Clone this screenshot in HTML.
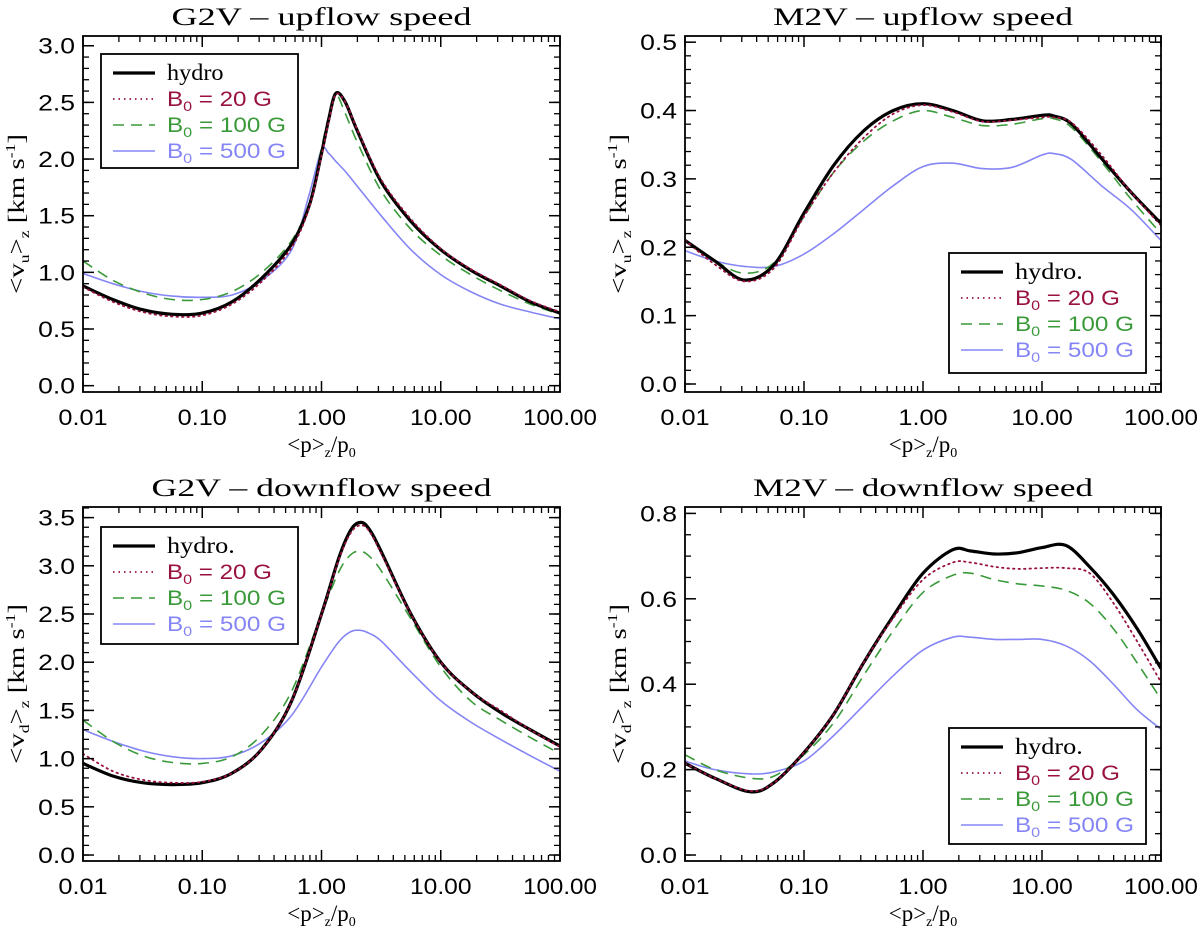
<!DOCTYPE html>
<html><head><meta charset="utf-8"><style>
html,body{margin:0;padding:0;background:#fff;overflow:hidden}
svg{display:block}
text{font-family:"Liberation Sans",sans-serif}
.t{font-family:"Liberation Serif",serif}
</style></head><body>
<svg id="fig" width="1200" height="929" viewBox="0 0 1200 929" xmlns="http://www.w3.org/2000/svg"></svg>
<script>
// ---- data (x = log10 <p>_z/p0) ----
const tlX = [-2,-1.75,-1.5,-1.25,-1,-0.75,-0.5,-0.25,-0.1,0,0.06,0.12,0.2,0.3,0.5,0.75,1,1.25,1.5,1.75,2];
const tlHydro = [0.88,0.76,0.67,0.63,0.64,0.74,0.95,1.25,1.6,2.05,2.35,2.58,2.5,2.25,1.8,1.45,1.2,1.02,0.88,0.74,0.64];
const tl20 = [0.87,0.74,0.65,0.61,0.62,0.72,0.92,1.22,1.58,2.03,2.33,2.57,2.5,2.26,1.82,1.47,1.21,1.03,0.89,0.75,0.65];
const tl100 = [1.1,0.93,0.82,0.76,0.76,0.83,1.0,1.28,1.62,2.1,2.38,2.57,2.4,2.15,1.72,1.38,1.15,0.98,0.84,0.72,0.63];
const tl500 = [0.99,0.9,0.83,0.79,0.78,0.8,0.93,1.2,1.7,2.08,2.05,1.98,1.89,1.76,1.5,1.2,0.98,0.83,0.72,0.65,0.59];

const trX = [-2,-1.75,-1.5,-1.25,-1,-0.75,-0.5,-0.25,0,0.25,0.5,0.75,1,1.1,1.25,1.5,1.75,2];
const trHydro = [0.21,0.18,0.152,0.175,0.25,0.32,0.37,0.4,0.41,0.4,0.385,0.387,0.393,0.392,0.38,0.33,0.28,0.235];
const tr20 = [0.21,0.175,0.15,0.17,0.245,0.31,0.36,0.395,0.408,0.398,0.384,0.386,0.39,0.39,0.382,0.335,0.28,0.232];
const tr100 = [0.21,0.18,0.162,0.178,0.245,0.31,0.355,0.385,0.4,0.39,0.378,0.38,0.388,0.388,0.375,0.325,0.27,0.22];
const tr500 = [0.195,0.18,0.172,0.172,0.19,0.22,0.255,0.29,0.318,0.323,0.315,0.317,0.335,0.337,0.328,0.29,0.255,0.21];

const blX = [-2,-1.75,-1.5,-1.25,-1,-0.75,-0.5,-0.25,0,0.15,0.25,0.33,0.4,0.5,0.75,1,1.25,1.5,1.75,2];
const blHydro = [0.95,0.82,0.75,0.73,0.75,0.85,1.1,1.6,2.5,3.1,3.38,3.45,3.38,3.15,2.5,2.0,1.7,1.48,1.3,1.13];
const bl20 = [1.05,0.87,0.78,0.75,0.76,0.85,1.1,1.6,2.5,3.08,3.35,3.42,3.36,3.13,2.5,2.0,1.7,1.5,1.3,1.12];
const bl100 = [1.4,1.18,1.03,0.96,0.95,1.02,1.25,1.7,2.5,2.95,3.12,3.15,3.1,2.95,2.45,1.95,1.6,1.4,1.22,1.05];
const bl500 = [1.3,1.18,1.08,1.02,1.0,1.03,1.17,1.45,1.95,2.22,2.32,2.33,2.3,2.22,1.9,1.6,1.38,1.2,1.03,0.87];

const brX = [-2,-1.75,-1.45,-1.25,-1,-0.75,-0.5,-0.25,0,0.25,0.4,0.6,0.8,1,1.2,1.4,1.6,1.8,2];
const brHydro = [0.215,0.18,0.148,0.17,0.24,0.33,0.45,0.56,0.66,0.715,0.712,0.705,0.708,0.72,0.725,0.675,0.61,0.53,0.437];
const br20 = [0.215,0.18,0.15,0.17,0.24,0.33,0.45,0.555,0.645,0.685,0.685,0.675,0.67,0.672,0.672,0.66,0.59,0.5,0.405];
const br100 = [0.235,0.2,0.18,0.185,0.235,0.31,0.42,0.525,0.615,0.655,0.66,0.645,0.635,0.63,0.62,0.59,0.53,0.45,0.365];
const br500 = [0.22,0.2,0.19,0.195,0.22,0.28,0.35,0.42,0.48,0.51,0.51,0.505,0.505,0.505,0.49,0.455,0.4,0.34,0.295];

const xTickLabels = ["0.01","0.10","1.00","10.00","100.00"];
const tlYTicks = ["0.0","0.5","1.0","1.5","2.0","2.5","3.0"];
const trYTicks = ["0.0","0.1","0.2","0.3","0.4","0.5"];
const blYTicks = ["0.0","0.5","1.0","1.5","2.0","2.5","3.0","3.5"];
const brYTicks = ["0.0","0.2","0.4","0.6","0.8"];

const NS="http://www.w3.org/2000/svg";
const svg=document.getElementById('fig');
function el(tag,attrs,parent){const e=document.createElementNS(NS,tag);for(const k in attrs)e.setAttribute(k,attrs[k]);(parent||svg).appendChild(e);return e;}

const styles={
 hydro:{stroke:"#000",w:3.2,dash:null,color:"#000"},
 b20:{stroke:"#99123f",w:1.8,dash:"1.5 4",color:"#99123f"},
 b100:{stroke:"#3a9a3a",w:1.6,dash:"11 7",color:"#3a9a3a"},
 b500:{stroke:"#8585f5",w:1.6,dash:null,color:"#8585f5"}
};

function smoothPath(pts){
 let d="M"+pts[0][0].toFixed(1)+","+pts[0][1].toFixed(1);
 for(let i=0;i<pts.length-1;i++){
  const p0=pts[Math.max(0,i-1)],p1=pts[i],p2=pts[i+1],p3=pts[Math.min(pts.length-1,i+2)];
  const c1=[p1[0]+(p2[0]-p0[0])/6,p1[1]+(p2[1]-p0[1])/6];
  const c2=[p2[0]-(p3[0]-p1[0])/6,p2[1]-(p3[1]-p1[1])/6];
  d+=" C"+c1[0].toFixed(1)+","+c1[1].toFixed(1)+" "+c2[0].toFixed(1)+","+c2[1].toFixed(1)+" "+p2[0].toFixed(1)+","+p2[1].toFixed(1);
 }
 return d;
}

function panel(o){
 const g=el('g',{});
 
 
 const L=o.box[0],T=o.box[1],R=o.box[2],B=o.box[3];
 const xs=v=>L+(v+2)/4*(R-L);
 const ys=v=>B-(v-o.ymin)/(o.ymax-o.ymin)*(B-T);
 // title
 const tt=el('text',{x:(L+R)/2,y:T-11,'text-anchor':'middle','font-size':25,class:'t',textLength:o.titleLen,lengthAdjust:'spacingAndGlyphs'},g);
 tt.textContent=o.title;
 
 
 // curves
 const cp=el('clipPath',{id:'clip-'+o.id},g);
 el('rect',{x:L,y:T,width:R-L,height:B-T},cp);
 const cg=el('g',{'clip-path':'url(#clip-'+o.id+')'},g);
 o.series.forEach(s=>{
  const st=styles[s.key];
  const pts=o.x.map((xv,i)=>[xs(xv),ys(s.v[i])]);
  const p=el('path',{d:smoothPath(pts),fill:'none',stroke:st.stroke,'stroke-width':st.w,'stroke-linecap':s.key==='b20'?'round':'butt'},cg);
  if(st.dash)p.setAttribute('stroke-dasharray',st.dash);
  
  
 });
 // frame
 const fr=el('rect',{x:L,y:T,width:R-L,height:B-T,fill:'none',stroke:'#000','stroke-width':1.8},g);
 
 
 // x ticks
 for(let d=-2;d<=2;d++){
  const X=xs(d);
  el('line',{x1:X,y1:B,x2:X,y2:B-11,stroke:'#000','stroke-width':1.5},g);
  el('line',{x1:X,y1:T,x2:X,y2:T+11,stroke:'#000','stroke-width':1.5},g);
  const lab=xTickLabels[d+2];
  const tl=el('text',{x:X,y:B+33,'text-anchor':'middle','font-size':22,textLength:lab.length*12.3,lengthAdjust:'spacingAndGlyphs'},g);
  tl.textContent=lab;
  
  
  if(d<2)for(let m=2;m<=9;m++){
   const Xm=xs(d+Math.log10(m));
   el('line',{x1:Xm,y1:B,x2:Xm,y2:B-6,stroke:'#000','stroke-width':1.3},g);
   el('line',{x1:Xm,y1:T,x2:Xm,y2:T+6,stroke:'#000','stroke-width':1.3},g);
  }
 }
 // y ticks
 o.yt.forEach((lab)=>{
  const v=parseFloat(lab),Y=ys(v);
  el('line',{x1:L,y1:Y,x2:L+11,y2:Y,stroke:'#000','stroke-width':1.5},g);
  el('line',{x1:R,y1:Y,x2:R-11,y2:Y,stroke:'#000','stroke-width':1.5},g);
  const t=el('text',{x:L-8,y:Y+8,'text-anchor':'end','font-size':22,textLength:lab.length*12.3,lengthAdjust:'spacingAndGlyphs'},g);
  t.textContent=lab;
  
  
 });
 const start=Math.ceil(o.ymin/o.minor-1e-6)*o.minor;
 for(let v=start;v<=o.ymax+1e-9;v+=o.minor){
  const Y=ys(v);
  el('line',{x1:L,y1:Y,x2:L+6,y2:Y,stroke:'#000','stroke-width':1.3},g);
  el('line',{x1:R,y1:Y,x2:R-6,y2:Y,stroke:'#000','stroke-width':1.3},g);
 }
 // axis titles
 const xt=el('text',{x:(L+R)/2,y:B+60,'text-anchor':'middle','font-size':23,class:'t'},g);
 xt.innerHTML='&lt;p&gt;<tspan font-size="14" dy="5">z</tspan><tspan dy="-5">/p</tspan><tspan font-size="14" dy="5">0</tspan>';
 
 
 const yc=(T+B)/2, yx=L-59;
 const yt=el('text',{x:yx,y:yc,'text-anchor':'middle','font-size':23,class:'t',textLength:160,lengthAdjust:'spacingAndGlyphs',transform:'rotate(-90 '+yx+' '+yc+')'},g);
 yt.innerHTML='&lt;v<tspan font-size="14" dy="5">'+o.sub+'</tspan><tspan dy="-5">&gt;</tspan><tspan font-size="14" dy="5">z</tspan><tspan dy="-5"> [km s</tspan><tspan font-size="14" dy="-9">-1</tspan><tspan dy="9">]</tspan>';
 
 
 // legend
 const lg=el('g',{},g);
 
 
 const lb=o.leg;
 el('rect',{x:lb[0],y:lb[1],width:lb[2],height:lb[3],fill:'#fff',stroke:'#000','stroke-width':1.8},lg);
 const names=[['hydro',o.hydroLabel],['b20','20 G'],['b100','100 G'],['b500','500 G']];
 names.forEach((n,i)=>{
  const st=styles[n[0]];
  const Y=lb[1]+19+i*26;
  const ln=el('line',{x1:lb[0]+12,y1:Y,x2:lb[0]+54,y2:Y,stroke:st.stroke,'stroke-width':st.w},lg);
  if(st.dash)ln.setAttribute('stroke-dasharray',st.dash);
  const t=el('text',{x:lb[0]+66,y:Y+7,'font-size':21,fill:st.color},lg);
  if(i===0){t.setAttribute('class','t');t.setAttribute('font-size','23');t.textContent=n[1];t.setAttribute('textLength',n[1].length*11.3);t.setAttribute('lengthAdjust','spacingAndGlyphs');}
  else {t.innerHTML='B<tspan font-size="14" dy="5">0</tspan><tspan dy="-5"> = '+n[1]+'</tspan>';t.setAttribute('textLength',i===1?105:119);t.setAttribute('lengthAdjust','spacingAndGlyphs');}
  
  
 });
}

panel({id:'tl',name:'panel-g2v-upflow',title:'G2V \u2013 upflow speed',titleLen:300,box:[83,36,560,392],ymin:-0.056,ymax:3.086,minor:0.1,yt:tlYTicks,sub:'u',x:tlX,
 series:[{key:'b500',v:tl500},{key:'b100',v:tl100},{key:'hydro',v:tlHydro},{key:'b20',v:tl20}],leg:[101,54,197,114],hydroLabel:'hydro'});
panel({id:'tr',name:'panel-m2v-upflow',title:'M2V \u2013 upflow speed',titleLen:300,box:[685,36,1161,392],ymin:-0.0117,ymax:0.509,minor:0.02,yt:trYTicks,sub:'u',x:trX,
 series:[{key:'b500',v:tr500},{key:'b100',v:tr100},{key:'hydro',v:trHydro},{key:'b20',v:tr20}],leg:[949,253,197,120],hydroLabel:'hydro.'});
panel({id:'bl',name:'panel-g2v-downflow',title:'G2V \u2013 downflow speed',titleLen:340,box:[83,507,560,861],ymin:-0.062,ymax:3.61,minor:0.1,yt:blYTicks,sub:'d',x:blX,
 series:[{key:'b500',v:bl500},{key:'b100',v:bl100},{key:'hydro',v:blHydro},{key:'b20',v:bl20}],leg:[101,527,197,117],hydroLabel:'hydro.'});
panel({id:'br',name:'panel-m2v-downflow',title:'M2V \u2013 downflow speed',titleLen:340,box:[685,507,1161,861],ymin:-0.014,ymax:0.815,minor:0.05,yt:brYTicks,sub:'d',x:brX,
 series:[{key:'b500',v:br500},{key:'b100',v:br100},{key:'hydro',v:brHydro},{key:'b20',v:br20}],leg:[949,728,197,116],hydroLabel:'hydro.'});
</script>
</body></html>
